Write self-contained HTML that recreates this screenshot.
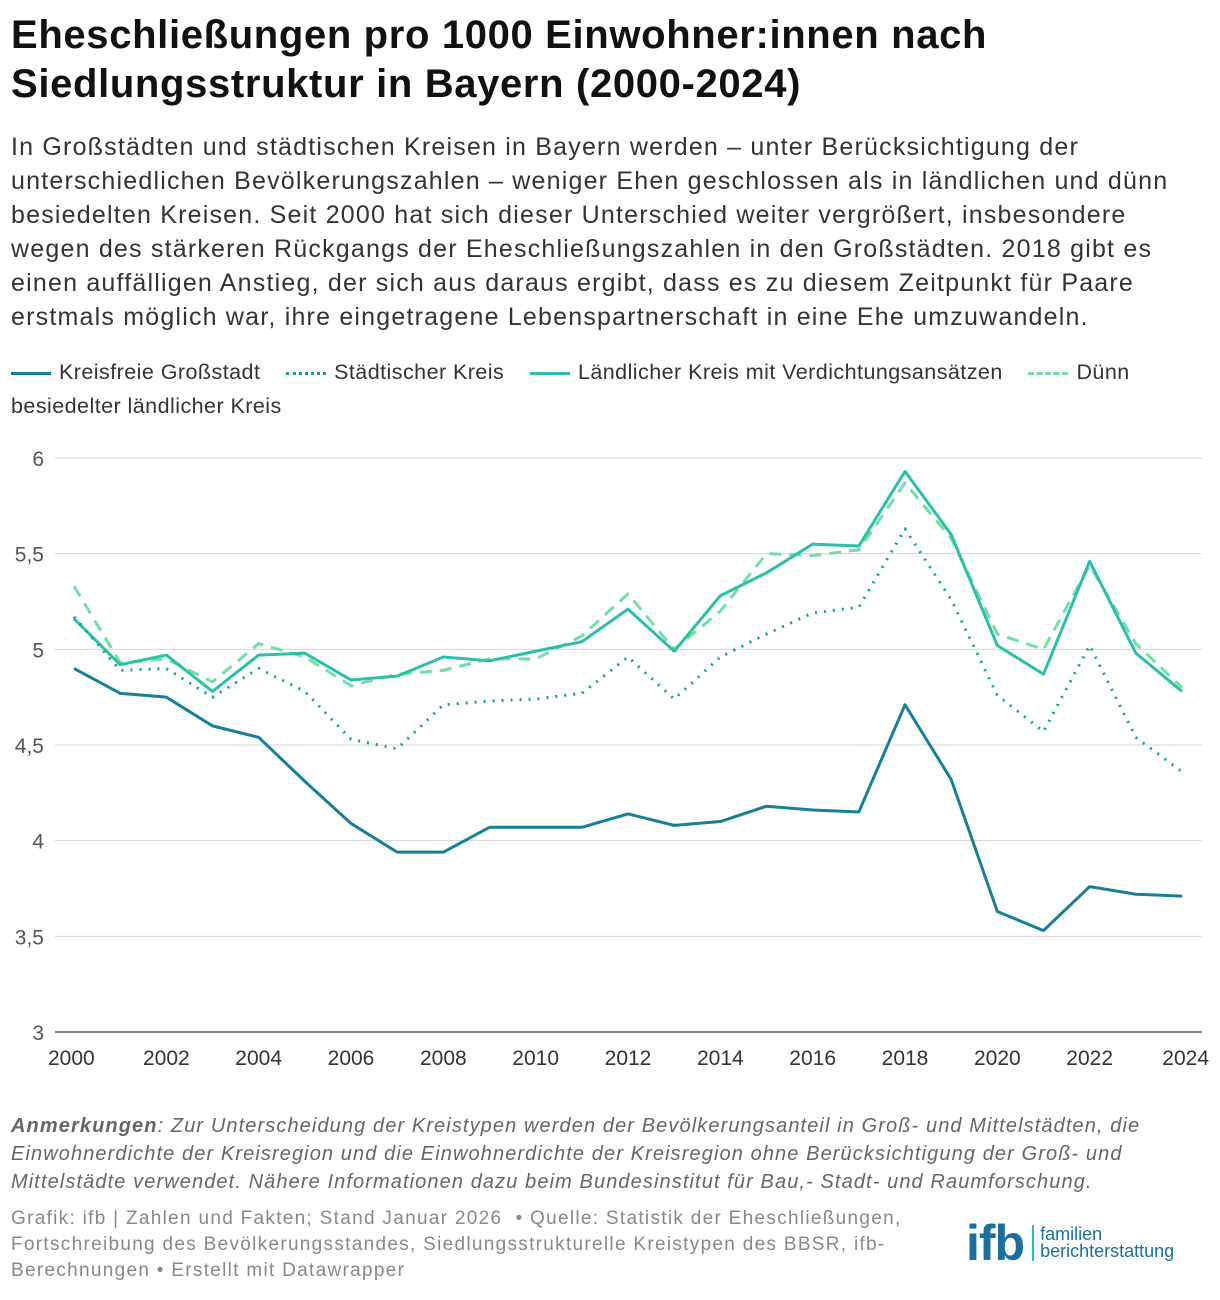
<!DOCTYPE html>
<html><head><meta charset="utf-8">
<style>
body{margin:0;width:1220px;height:1300px;background:#fff;font-family:"Liberation Sans",sans-serif;color:#222;position:relative;overflow:hidden}
.t{position:absolute;left:11px;margin:0;white-space:nowrap}
h1{font-size:40px;line-height:49px;top:11px;font-weight:bold;color:#111;letter-spacing:0.65px}
.sub{top:130px;font-size:25px;line-height:34px;color:#333;letter-spacing:1.2px}
.leg{top:355px;font-size:21.5px;line-height:34px;color:#333;letter-spacing:0.45px}
.li{display:inline-block;width:40px;height:0;vertical-align:middle;margin-right:8px;border-top:3px solid}
.note{top:1112px;font-size:20px;line-height:28px;font-style:italic;color:#666;letter-spacing:1.1px}
.foot{top:1206px;font-size:19px;line-height:26px;color:#888;letter-spacing:1.3px}
</style></head><body>
<h1 class="t">Eheschließungen pro 1000 Einwohner:innen nach<br>Siedlungsstruktur in Bayern (2000-2024)</h1>
<p class="t sub">In Großstädten und städtischen Kreisen in Bayern werden – unter Berücksichtigung der<br>unterschiedlichen Bevölkerungszahlen – weniger Ehen geschlossen als in ländlichen und dünn<br>besiedelten Kreisen. Seit 2000 hat sich dieser Unterschied weiter vergrößert, insbesondere<br>wegen des stärkeren Rückgangs der Eheschließungszahlen in den Großstädten. 2018 gibt es<br>einen auffälligen Anstieg, der sich aus daraus ergibt, dass es zu diesem Zeitpunkt für Paare<br>erstmals möglich war, ihre eingetragene Lebenspartnerschaft in eine Ehe umzuwandeln.</p>
<div class="t leg">
<span><span class="li" style="border-color:#177f97"></span>Kreisfreie Großstadt</span>&nbsp;&nbsp;&nbsp;
<span><span class="li" style="border-top:3px dotted #129ea2"></span>Städtischer Kreis</span>&nbsp;&nbsp;&nbsp;
<span><span class="li" style="border-color:#2cc0a8"></span>Ländlicher Kreis mit Verdichtungsansätzen</span>&nbsp;&nbsp;&nbsp;
<span><span class="li" style="border-top:3px dashed #72dfa6"></span>Dünn<br>besiedelter ländlicher Kreis</span>
</div>
<svg id="chart" width="1220" height="1090" style="position:absolute;left:0;top:0"></svg>
<p class="t note"><b>Anmerkungen</b>: Zur Unterscheidung der Kreistypen werden der Bevölkerungsanteil in Groß- und Mittelstädten, die<br>Einwohnerdichte der Kreisregion und die Einwohnerdichte der Kreisregion ohne Berücksichtigung der Groß- und<br>Mittelstädte verwendet. Nähere Informationen dazu beim Bundesinstitut für Bau,- Stadt- und Raumforschung.</p>
<p class="t foot">Grafik: ifb | Zahlen und Fakten; Stand Januar 2026 &nbsp;• Quelle: Statistik der Eheschließungen,<br>Fortschreibung des Bevölkerungsstandes, Siedlungsstrukturelle Kreistypen des BBSR, ifb-<br>Berechnungen • Erstellt mit Datawrapper</p>
<div style="position:absolute;left:966px;top:1218px;display:flex;align-items:center">
<span style="font-size:50px;font-weight:bold;color:#1a6fa0;letter-spacing:-1px;line-height:50px">ifb</span>
<span style="width:2px;height:36px;background:#2cc0a8;margin:0 6px 0 8px"></span>
<span style="font-size:18px;line-height:17px;color:#1a6fa0">familien<br>berichterstattung</span>
</div>
<script>
const years=[2000,2001,2002,2003,2004,2005,2006,2007,2008,2009,2010,2011,2012,2013,2014,2015,2016,2017,2018,2019,2020,2021,2022,2023,2024];
const grossstadt=[4.90,4.77,4.75,4.60,4.54,4.31,4.09,3.94,3.94,4.07,4.07,4.07,4.14,4.08,4.10,4.18,4.16,4.15,4.71,4.32,3.63,3.53,3.76,3.72,3.71];
const staedtisch=[5.17,4.89,4.90,4.75,4.90,4.78,4.53,4.48,4.71,4.73,4.74,4.77,4.96,4.74,4.96,5.08,5.19,5.22,5.63,5.26,4.76,4.57,5.02,4.54,4.36];
const laendlich=[5.16,4.92,4.97,4.78,4.97,4.98,4.84,4.86,4.96,4.94,4.99,5.04,5.21,4.99,5.28,5.40,5.55,5.54,5.93,5.60,5.02,4.87,5.46,4.98,4.78];
const duenn=[5.33,4.93,4.95,4.83,5.03,4.96,4.81,4.87,4.89,4.95,4.95,5.07,5.29,5.00,5.20,5.50,5.49,5.52,5.87,5.58,5.08,5.00,5.44,5.03,4.80];
const yTicks=[3,3.5,4,4.5,5,5.5,6];
const yTickLabels=["3","3,5","4","4,5","5","5,5","6"];
const xTicks=[2000,2002,2004,2006,2008,2010,2012,2014,2016,2018,2020,2022,2024];
const svg=document.getElementById('chart');const NS='http://www.w3.org/2000/svg';
const x=v=>74+(v-2000)*(1182-74)/24;
const y=v=>1032-(v-3)*(1032-458)/3;
function mk(t,a){const e=document.createElementNS(NS,t);for(const k in a)e.setAttribute(k,a[k]);svg.appendChild(e);return e;}
yTicks.forEach((v,i)=>{
const g=mk('line',{x1:55,x2:1202,y1:y(v),y2:y(v),stroke:v===3?'#333':'#d4d4d4','stroke-width':v===3?1.3:1});


const t=mk('text',{x:44,y:y(v)+8,'text-anchor':'end','font-size':21,fill:'#555','font-family':'Liberation Sans'});
t.textContent=yTickLabels[i];


});
xTicks.forEach((v,i)=>{
const anchor=i===0?'start':(i===xTicks.length-1?'end':'middle');
const t=mk('text',{x:i===0?x(v)-26:(i===xTicks.length-1?x(v)+27:x(v)),y:1065,'text-anchor':anchor,'font-size':21,fill:'#333','font-family':'Liberation Sans'});
t.textContent=v;


});
function line(data,color,dash,name){
const p=mk('polyline',{points:data.map((v,i)=>x(years[i])+','+y(v)).join(' '),fill:'none',stroke:color,'stroke-width':3,'stroke-linejoin':'round','stroke-dasharray':dash});


}
line(duenn,'#72dfa6','12,8','line-duenn-besiedelt');
line(laendlich,'#2cc0a8','none','line-laendlich-verdichtet');
line(staedtisch,'#129ea2','2,7','line-staedtischer-kreis');
line(grossstadt,'#177f97','none','line-kreisfreie-grossstadt');
</script>
</body></html>
